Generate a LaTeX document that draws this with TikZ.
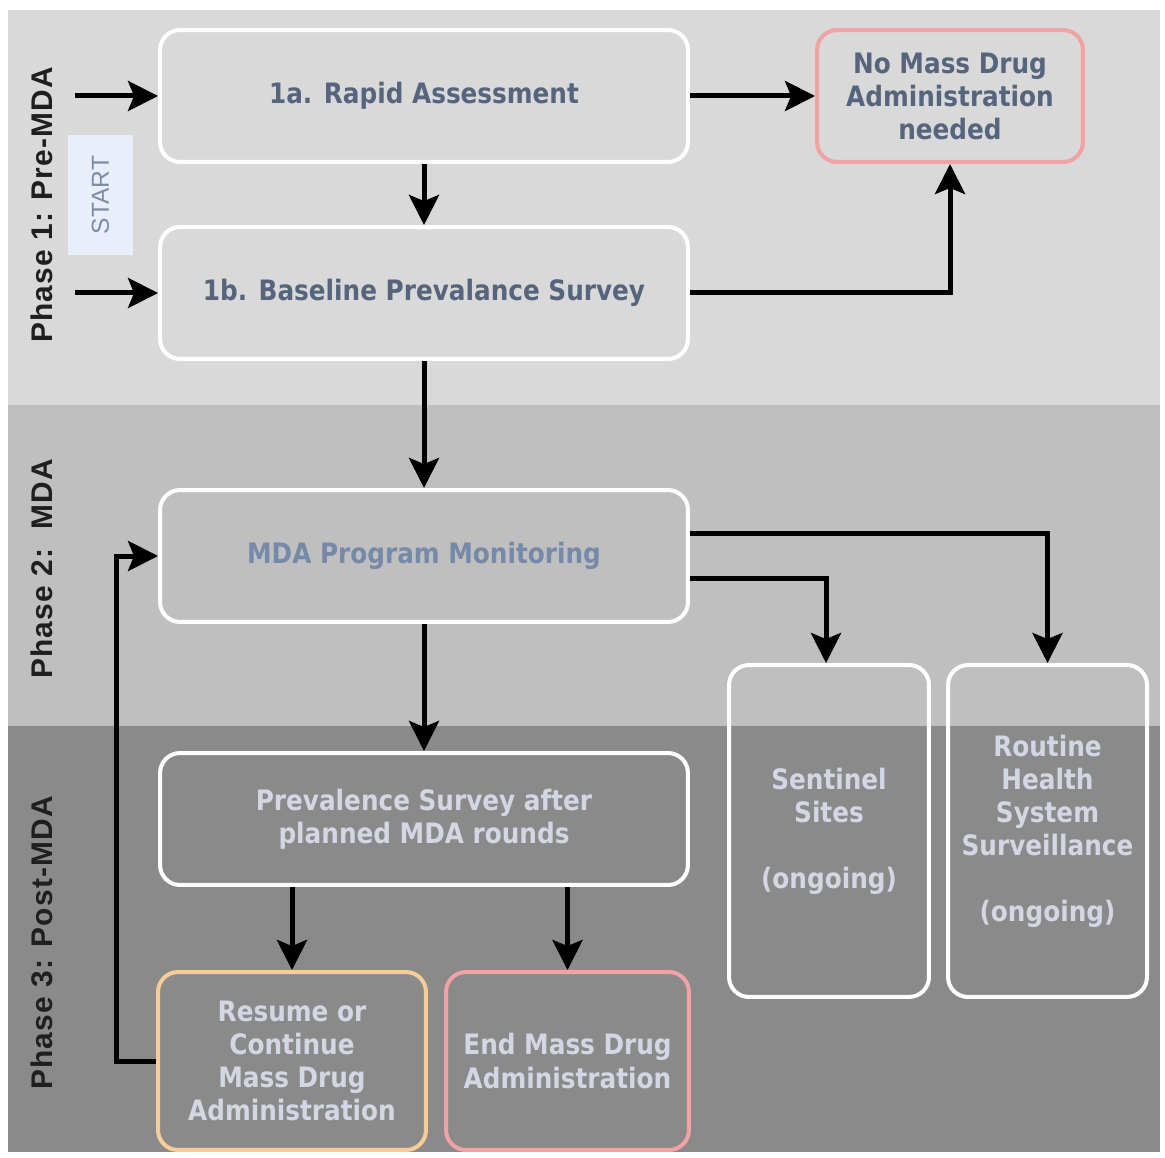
\documentclass[tikz,border=0pt]{standalone}
\usepackage{fontspec}
\setmainfont{DejaVu Sans}
\newfontfamily\boxfont{DejaVu Sans}[FakeStretch=0.88]
\newfontfamily\phasefont{Liberation Sans}[LetterSpace=4]
\newfontfamily\startfont{Liberation Sans}
\usetikzlibrary{arrows.meta,positioning,calc}
\definecolor{bandA}{HTML}{D9D9D9}
\definecolor{bandB}{HTML}{BFBFBF}
\definecolor{bandC}{HTML}{8A8A8A}
\definecolor{darktext}{HTML}{56657D}
\definecolor{montext}{HTML}{7589A8}
\definecolor{lighttext}{HTML}{D3D7E3}
\definecolor{pinkline}{HTML}{F1A2A2}
\definecolor{orangeline}{HTML}{F6CD98}
\definecolor{startfill}{HTML}{E8EFFA}
\definecolor{starttext}{HTML}{7D8DA5}

\begin{document}
\begin{tikzpicture}[x=0.02cm,y=-0.02cm,
  box/.style={draw=white, line width=0.08cm, rounded corners=0.4cm, align=center,
    inner sep=0pt, font={\boxfont\bfseries\fontsize{16}{18.8}\selectfont}},
  widebox/.style={box, minimum width=10.56cm, minimum height=2.64cm},
  tallbox/.style={box, text=lighttext, minimum width=4cm, minimum height=6.64cm},
  lowbox/.style={box, text=lighttext, minimum height=3.56cm},
  phase/.style={rotate=90, text=black!88, font={\phasefont\bfseries\fontsize{17}{20}\selectfont}},
  startbox/.style={rotate=90, fill=startfill, text=starttext, minimum width=2.4cm,
    minimum height=1.3cm, font={\startfont\fontsize{14}{16}\selectfont}},
  flow/.style={-{Stealth[length=0.6cm,width=0.6cm,inset=0.12cm]}, line width=0.1cm, black}]
\path[use as bounding box, fill=white] (0,0) rectangle (1165,1158);
\foreach \c/\ya/\yb in {bandA/10/405, bandB/405/726, bandC/726/1152}
  \fill[\c] (8,\ya) rectangle (1160,\yb);
\foreach \n/\y/\l in {1/205/{Phase 1: Pre-MDA}, 2/569/{Phase 2:\ \ MDA}, 3/943/{Phase 3: Post-MDA}}
  \node[phase] (phase\n) at (42,\y) {\l};
\node[startbox] (start) at (100.5,195) {START};

\node[widebox, text=darktext] (rapid) at (424,96) {1a. Rapid Assessment};
\node[widebox, text=darktext] (baseline) at (424,293) {1b. Baseline Prevalance Survey};
\node[box, draw=pinkline, text=darktext, minimum width=5.32cm, minimum height=2.64cm] (nomda) at (950,96)
  {No Mass Drug\\Administration\\needed};
\node[widebox, text=montext] (monitor) at (424,556) {MDA Program Monitoring};
\node[widebox, text=lighttext] (postsurvey) at (424,819) {Prevalence Survey after\\planned MDA rounds};
\node[tallbox] (sentinel) at (829,831) {Sentinel\\Sites\\[0.66cm](ongoing)};
\node[tallbox, minimum width=3.98cm] (routine) at (1047.5,831)
  {Routine\\Health\\System\\Surveillance\\[0.66cm](ongoing)};
\node[lowbox, draw=orangeline, minimum width=5.36cm] (resume) at (292,1061)
  {Resume or\\Continue\\Mass Drug\\Administration};
\node[lowbox, draw=pinkline, minimum width=4.86cm] (endmda) at (567.5,1061)
  {End Mass Drug\\Administration};

\coordinate (entryA) at (75,96);
\coordinate (entryB) at (75,293);
\draw[flow] (entryA) -- (rapid.west);
\draw[flow] (entryB) -- (baseline.west);
\draw[flow] (rapid) -- (baseline);
\draw[flow] (rapid) -- (nomda);
\draw[flow] (baseline.east) -| (nomda.south);
\draw[flow] (baseline) -- (monitor);
\draw[flow] ($(monitor.east)+(0,-23)$) -| (routine.north);
\draw[flow] ($(monitor.east)+(0,22)$) -| ([xshift=-0.06cm]sentinel.north);
\draw[flow] (monitor) -- (postsurvey);
\draw[flow] (resume.north |- postsurvey.south) -- (resume.north);
\draw[flow] (endmda.north |- postsurvey.south) -- (endmda.north);
\draw[flow] (resume.west) -- ++(-40,0) |- (monitor.west);
\end{tikzpicture}
\end{document}
